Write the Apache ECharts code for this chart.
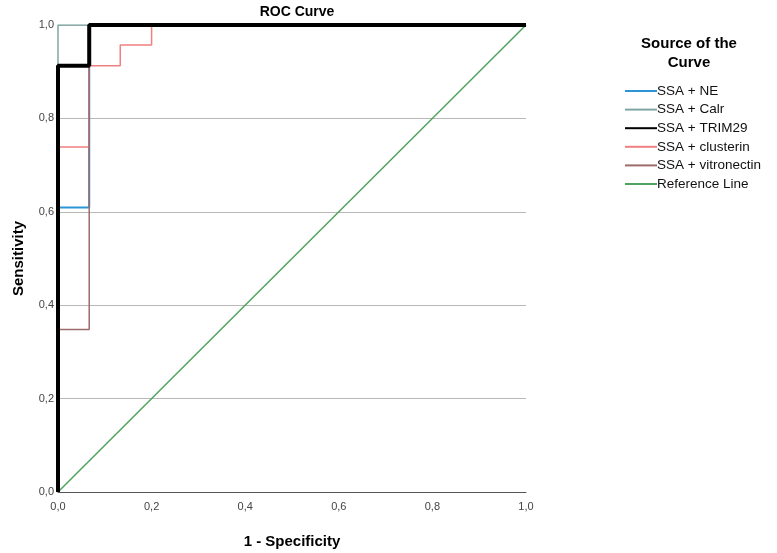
<!DOCTYPE html>
<html>
<head>
<meta charset="utf-8">
<script src="https://cdn.jsdelivr.net/npm/echarts@6/dist/echarts.min.js"></script>
<style>
  html, body { margin:0; padding:0; background:#fff; }
  #chart { width:777px; height:553px; }
</style>
</head>
<body>
<div id="chart"></div>
<script>
// ROC points: 1 - specificity (x) and sensitivity (y)
var seriesNames = ['SSA + NE', 'SSA + Calr', 'SSA + TRIM29', 'SSA + clusterin', 'SSA + vitronectin', 'Reference Line'];
var neX = [0, 0, 0.0667, 0.0667, 1];
var neY = [0, 0.609, 0.609, 1, 1];
var calrX = [0, 0, 1];
var calrY = [0, 1, 1];
var trimX = [0, 0, 0.0667, 0.0667, 1];
var trimY = [0, 0.913, 0.913, 1, 1];
var clusX = [0, 0, 0.0667, 0.0667, 0.133, 0.133, 0.2, 0.2, 1];
var clusY = [0, 0.739, 0.739, 0.913, 0.913, 0.957, 0.957, 1, 1];
var vitrX = [0, 0, 0.0667, 0.0667, 1];
var vitrY = [0, 0.348, 0.348, 1, 1];
var refX = [0, 1];
var refY = [0, 1];
var tickLabels = ['0,0', '0,2', '0,4', '0,6', '0,8', '1,0'];

var colors = ['#2b95d6', '#7fa6a3', '#000000', '#f08080', '#9c6b6b', '#4fa35f'];

function pairs(xs, ys) {
  return xs.map(function (x, i) { return [x, ys[i]]; });
}
function fmt(v) {
  return tickLabels[Math.round(v * 5)];
}

var curves = [
  { name: seriesNames[0], data: pairs(neX, neY), width: 2, z: 3 },
  { name: seriesNames[1], data: pairs(calrX, calrY), width: 1.5, z: 2 },
  { name: seriesNames[2], data: pairs(trimX, trimY), width: 4, z: 10 },
  { name: seriesNames[3], data: pairs(clusX, clusY), width: 1.5, z: 4 },
  { name: seriesNames[4], data: pairs(vitrX, vitrY), width: 1.5, z: 5 },
  { name: seriesNames[5], data: pairs(refX, refY), width: 1.5, z: 1 }
];

var myChart = echarts.init(document.getElementById('chart'));
myChart.setOption({
  animation: false,
  color: colors,
  title: [{
    text: 'ROC Curve',
    left: 292,
    top: 0,
    textAlign: 'center',
    textStyle: { fontFamily: 'Liberation Sans', fontSize: 14, fontWeight: 'bold', color: '#000' }
  }, {
    text: 'Source of the\nCurve',
    left: 684,
    top: 29,
    textAlign: 'center',
    textStyle: { fontFamily: 'Liberation Sans', fontSize: 15, fontWeight: 'bold', color: '#000', lineHeight: 19 }
  }],
  legend: {
    orient: 'vertical',
    left: 619,
    top: 79,
    itemWidth: 32,
    itemHeight: 10,
    itemGap: 4.6,
    data: seriesNames,
    itemStyle: { opacity: 0 },
    textStyle: { fontFamily: 'Liberation Sans', fontSize: 13.5, color: '#111', padding: [0, 0, 0, -5] }
  },
  grid: { left: 58, right: 251, top: 25, bottom: 61, outerBoundsMode: 'none' },
  xAxis: {
    type: 'value',
    min: 0, max: 1, interval: 0.2,
    name: '1 - Specificity',
    nameLocation: 'middle',
    nameGap: 42,
    nameTextStyle: { fontFamily: 'Liberation Sans', fontSize: 15, fontWeight: 'bold', color: '#000' },
    axisLine: { show: true, lineStyle: { color: '#555', width: 1 } },
    axisTick: { show: false },
    splitLine: { show: false },
    axisLabel: { formatter: fmt, fontFamily: 'Liberation Sans', fontSize: 11, color: '#444', margin: 9 }
  },
  yAxis: {
    type: 'value',
    min: 0, max: 1, interval: 0.2,
    name: 'Sensitivity',
    nameLocation: 'middle',
    nameGap: 32,
    nameTextStyle: { fontFamily: 'Liberation Sans', fontSize: 15, fontWeight: 'bold', color: '#000' },
    axisLine: { show: false },
    axisTick: { show: false },
    splitLine: { show: true, lineStyle: { color: '#b8b8b8', width: 1 } },
    axisLabel: { formatter: fmt, fontFamily: 'Liberation Sans', fontSize: 11, color: '#444', margin: 4 }
  },
  series: curves.map(function (c) {
    return {
      name: c.name,
      type: 'line',
      data: c.data,
      symbol: 'none',
      z: c.z,
      lineStyle: { width: c.width },
      emphasis: { disabled: true }
    };
  })
});
</script>
</body>
</html>
